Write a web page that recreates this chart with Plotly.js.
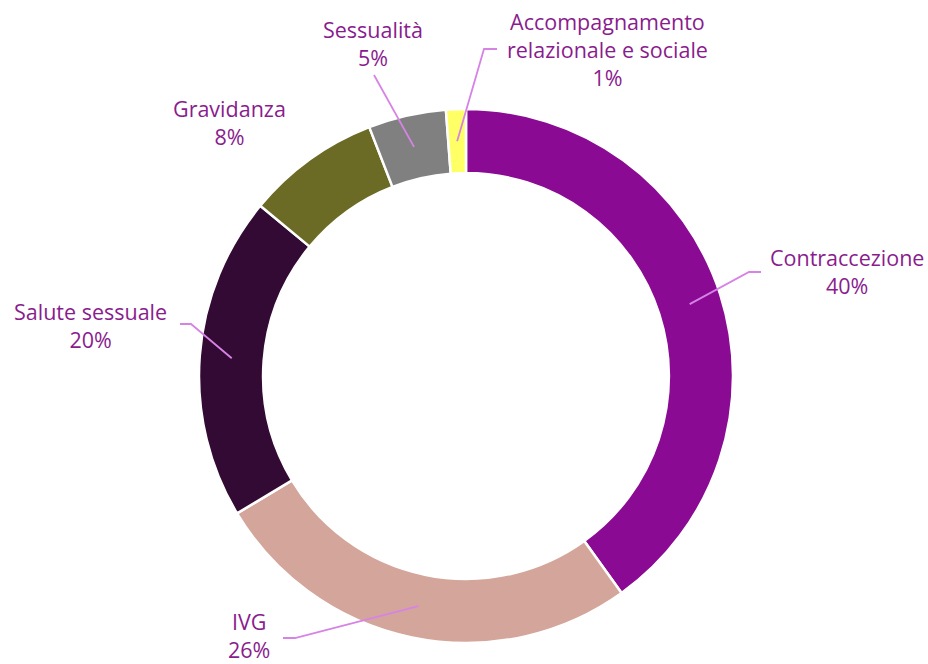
<!DOCTYPE html>
<html>
<head>
<meta charset="utf-8">
<script src="https://cdn.plot.ly/plotly-3.0.1.min.js"></script>
<style>html,body{margin:0;padding:0;background:#fff;}#chart{width:928px;height:664px;}</style>
</head>
<body>
<div id="chart"></div>
<script>
const categories = ["Contraccezione", "IVG", "Salute sessuale", "Gravidanza", "Sessualità", "Accompagnamento<br>relazionale e sociale"];
const values = [40.1, 26.3, 19.6, 8.1, 4.7, 1.2];
const colors = ["#8B0A93", "#D4A59A", "#330A33", "#6B6B25", "#808080", "#FFFF66"];

const W = 928, H = 664;
const cx = 466, cy = 376, R = 267, hole = 0.76;
const midR = R * (1 + hole) / 2;

// label placement (pixels): text centre, elbow/end of leader line
const labelPos = [
  {x: 847, y: 271, pts: [[749, 272], [761, 272]]},
  {x: 249, y: 635, pts: [[295, 638], [283, 638]]},
  {x: 90,  y: 325, pts: [[191, 324], [180, 324]]},
  {x: 229, y: 123, pts: null},
  {x: 373, y: 43,  pts: [[374, 75]]},
  {x: 607, y: 49,  pts: [[484, 49], [497, 49]]}
];

const total = values.reduce((a, b) => a + b, 0);
const px = x => x / W, py = y => 1 - y / H;

const annotations = [], shapes = [];
let cum = 0;
values.forEach((v, i) => {
  const mid = (cum + v / 2) / total * 2 * Math.PI;
  cum += v;
  const ax = cx + midR * Math.sin(mid), ay = cy - midR * Math.cos(mid);
  const pct = Math.round(v / total * 100);
  const lp = labelPos[i];
  annotations.push({
    x: px(lp.x), y: py(lp.y), xref: 'paper', yref: 'paper',
    text: categories[i] + '<br>' + pct + '%', showarrow: false,
    xanchor: 'center', yanchor: 'middle', align: 'center', borderpad: 0,
    font: {family: 'Open Sans, sans-serif', size: 21.5, color: '#8A1C8E'}
  });
  if (lp.pts) {
    let path = 'M' + px(ax) + ',' + py(ay);
    lp.pts.forEach(p => { path += ' L' + px(p[0]) + ',' + py(p[1]); });
    shapes.push({type: 'path', xref: 'paper', yref: 'paper', path: path,
      line: {color: '#D783E6', width: 1.8}});
  }
});

const trace = {
  type: 'pie', values: values, labels: categories, sort: false,
  direction: 'clockwise', rotation: 0, hole: hole,
  marker: {colors: colors, line: {color: '#ffffff', width: 2.5}},
  textinfo: 'none', hoverinfo: 'none', showlegend: false,
  domain: {x: [(cx - R) / W, (cx + R) / W], y: [(H - cy - R) / H, (H - cy + R) / H]}
};

Plotly.newPlot('chart', [trace], {
  width: W, height: H, margin: {l: 0, r: 0, t: 0, b: 0},
  paper_bgcolor: '#ffffff', showlegend: false,
  annotations: annotations, shapes: shapes
}, {staticPlot: true});
</script>
</body>
</html>
